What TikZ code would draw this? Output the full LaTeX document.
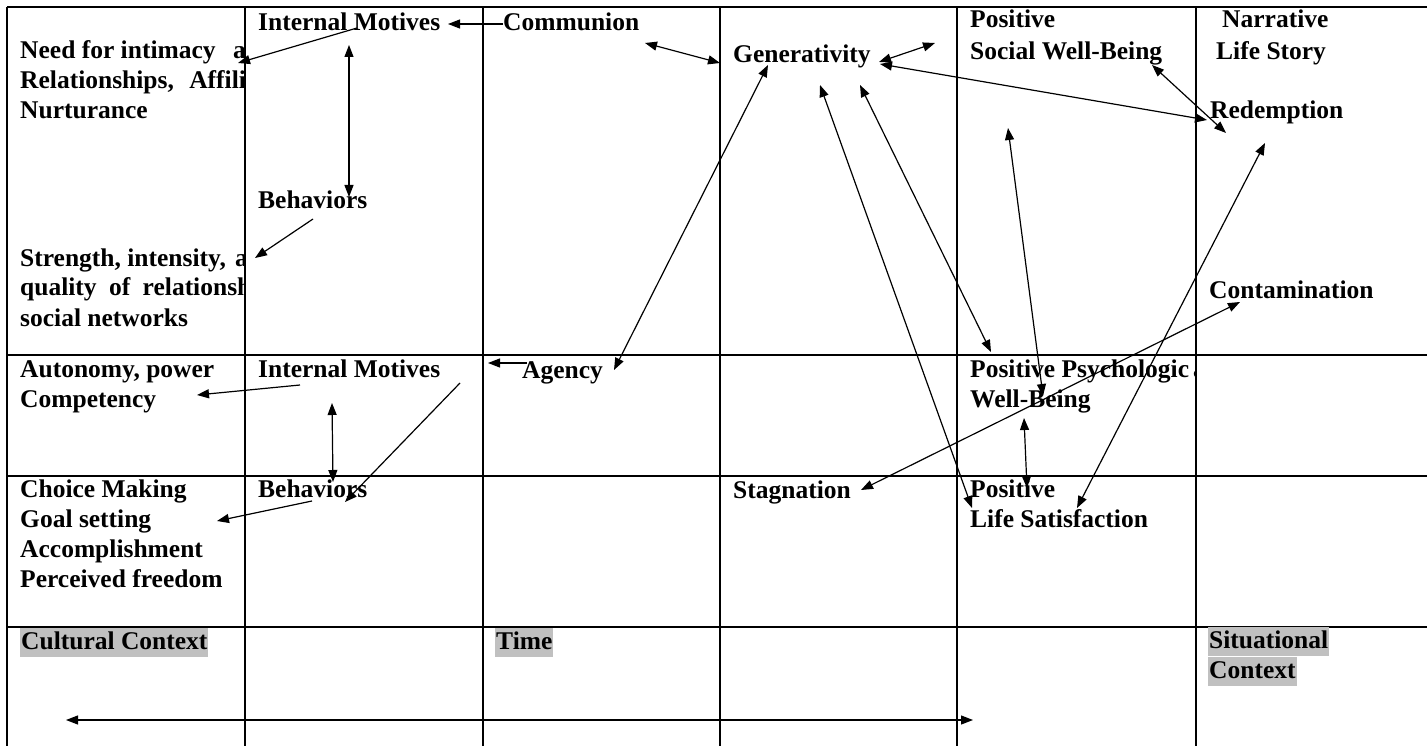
\documentclass[tikz,border=0pt]{standalone}
\usepackage{fontspec}
\setmainfont{Liberation Serif}
\usetikzlibrary{arrows.meta}
\definecolor{hl}{HTML}{C0C0C0}
\begin{document}
\begin{tikzpicture}[x=1pt,y=-1pt,
  gridline/.style={line width=1.4pt, black},
  lbl/.style={anchor=base west, inner sep=0pt, font=\fontsize{25.5}{29}\selectfont\bfseries},
  hlbl/.style={lbl, fill=hl, text height=21pt, text depth=8pt, inner xsep=1pt},
  con/.style={line width=1.2pt, -{Triangle[length=12pt,width=9pt]}},
  bicon/.style={line width=1.2pt, {Triangle[length=12pt,width=9pt]}-{Triangle[length=12pt,width=9pt]}}]

\useasboundingbox (0,0) rectangle (1427,746);
\fill[white] (0,0) rectangle (1427,746);

% ---- table grid ----
\foreach \gx in {7,245,483,720,957,1196} \draw[gridline] (\gx,7) -- (\gx,746);
\foreach \gy in {7,355,476,627} \draw[gridline] (7,\gy) -- (1427,\gy);

% ---- row 1 ----
\begin{scope}
  \clip (8,8) rectangle (244.3,354);
  \node[lbl] (need1) at (20,59) {Need for intimacy\hspace{11pt} a};
  \node[lbl] (need2) at (20,89) {Relationships,\hspace{9pt} Affili};
  \node[lbl] (need3) at (20,119) {Nurturance};
  \node[lbl] (str1) at (20,266) {Strength, intensity,\hspace{3pt} a};
  \node[lbl] (str2) at (20,295) {quality\hspace{6pt} of\hspace{6pt} relationsh};
  \node[lbl] (str3) at (20,326) {social networks};
\end{scope}
\node[lbl] (im1) at (258,31) {Internal Motives};
\node[lbl] (beh1) at (258,209) {Behaviors};
\node[lbl] (comm) at (503,31) {Communion};
\node[lbl] (gen) at (733,63) {Generativity};
\node[lbl] (pos1) at (970,28) {Positive};
\node[lbl] (soc) at (970,60) {Social Well-Being};
\node[lbl] (narr) at (1222,28) {Narrative};
\node[lbl] (life) at (1216,60) {Life Story};
\node[lbl] (red) at (1210,119) {Redemption};
\node[lbl] (cont) at (1209,298) {Contamination};

% ---- row 2 ----
\node[lbl] (auto) at (20,377) {Autonomy, power};
\node[lbl] (comp) at (20,407) {Competency};
\node[lbl] (im2) at (258,377) {Internal Motives};
\node[lbl] (agency) at (522,378) {Agency};
\begin{scope}
  \clip (958,356) rectangle (1195.3,475);
  \node[lbl] (psy1) at (970,377) {Positive Psychologic\hspace{4pt}a};
\end{scope}
\node[lbl] (psy2) at (970,407) {Well-Being};

% ---- row 3 ----
\node[lbl] (cho1) at (20,497) {Choice Making};
\node[lbl] (cho2) at (20,527) {Goal setting};
\node[lbl] (cho3) at (20,557) {Accomplishment};
\node[lbl] (cho4) at (20,587) {Perceived freedom};
\node[lbl] (beh2) at (258,497) {Behaviors};
\node[lbl] (stag) at (733,498) {Stagnation};
\node[lbl] (pos3) at (970,497) {Positive};
\node[lbl] (lsat) at (970,527) {Life Satisfaction};

% ---- row 4 ----
\node[hlbl] (cult) at (20,649) {Cultural Context};
\node[hlbl] (time) at (495,649) {Time};
\node[hlbl] (sit1) at (1208,648) {Situational};
\node[hlbl] (sit2) at (1208,678) {Context};

% ---- connector end points ----
\coordinate (a1s) at (503,24);   \coordinate (a1e) at (448,24);
\coordinate (a2s) at (357,28);   \coordinate (a2e) at (238,63);
\coordinate (a3s) at (349,45);   \coordinate (a3e) at (349,197);
\coordinate (a4s) at (313,219);  \coordinate (a4e) at (255,258);
\coordinate (a5s) at (645,43);   \coordinate (a5e) at (720,63);
\coordinate (a6s) at (879,62);   \coordinate (a6e) at (935,43);
\coordinate (a7s) at (880,64);   \coordinate (a7e) at (1207,120);
\coordinate (a8s) at (1152,65);  \coordinate (a8e) at (1226,133);
\coordinate (a9s) at (768,65);   \coordinate (a9e) at (614,370);
\coordinate (a10s) at (527,363); \coordinate (a10e) at (488,363);
\coordinate (a11s) at (820,85);  \coordinate (a11e) at (972,508);
\coordinate (a12s) at (860,85);  \coordinate (a12e) at (991,352);
\coordinate (a13s) at (1008,128);\coordinate (a13e) at (1043,396);
\coordinate (a14s) at (1265,143);\coordinate (a14e) at (1077,508);
\coordinate (a15s) at (1240,302);\coordinate (a15e) at (861,490);
\coordinate (a16s) at (1024,418);\coordinate (a16e) at (1027,488);
\coordinate (a17s) at (332,403); \coordinate (a17e) at (333,482);
\coordinate (a18s) at (460,383); \coordinate (a18e) at (345,502);
\coordinate (a19s) at (300,385); \coordinate (a19e) at (197,395);
\coordinate (a20s) at (312,501); \coordinate (a20e) at (217,521);
\coordinate (a21s) at (66,720);  \coordinate (a21e) at (973,720);

% ---- connectors ----
\draw[con] (a1s) -- (a1e);
\draw[con] (a2s) -- (a2e);
\draw[bicon] (a3s) -- (a3e);
\draw[con] (a4s) -- (a4e);
\draw[bicon] (a5s) -- (a5e);
\draw[bicon] (a6s) -- (a6e);
\draw[bicon] (a7s) -- (a7e);
\draw[bicon] (a8s) -- (a8e);
\draw[bicon] (a9s) -- (a9e);
\draw[con] (a10s) -- (a10e);
\draw[bicon] (a11s) -- (a11e);
\draw[bicon] (a12s) -- (a12e);
\draw[bicon] (a13s) -- (a13e);
\draw[bicon] (a14s) -- (a14e);
\draw[bicon] (a15s) -- (a15e);
\draw[bicon] (a16s) -- (a16e);
\draw[bicon] (a17s) -- (a17e);
\draw[con] (a18s) -- (a18e);
\draw[con] (a19s) -- (a19e);
\draw[con] (a20s) -- (a20e);
\draw[bicon] (a21s) -- (a21e);
\end{tikzpicture}
\end{document}
